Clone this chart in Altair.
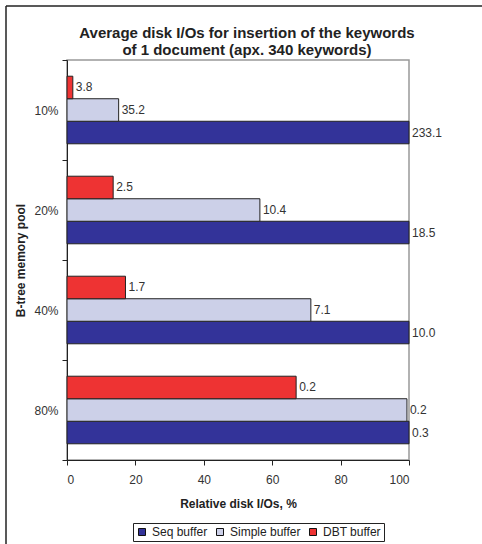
import altair as alt
import pandas as pd

pools = ["10%", "20%", "40%", "80%"]
series = ["Seq buffer", "Simple buffer", "DBT buffer"]
seq_rel = [100.0, 100.0, 100.0, 100.0]
simple_rel = [15.1, 56.4, 71.3, 99.4]
dbt_rel = [1.7, 13.5, 17.1, 67.0]
seq_io = [233.1, 18.5, 10.0, 0.3]
simple_io = [35.2, 10.4, 7.1, 0.2]
dbt_io = [3.8, 2.5, 1.7, 0.2]
colors = ["#333399", "#ccd0e8", "#ee3333"]

rows = []
for s, rel, io in zip(series, [seq_rel, simple_rel, dbt_rel], [seq_io, simple_io, dbt_io]):
    for p, r, v in zip(pools, rel, io):
        rows.append({"pool": p, "series": s, "rel": r, "io": v})
df = pd.DataFrame(rows)

FONT = "Liberation Sans"

y = alt.Y("pool:N", sort=pools, scale=alt.Scale(paddingInner=0, paddingOuter=0),
          axis=alt.Axis(title="B-tree memory pool", tickBand="extent", labelFontSize=12,
                        labelColor="#333", titleFontSize=12, titleFontWeight="bold",
                        titleColor="#222", domainColor="#222", tickColor="#222",
                        tickSize=5, labelPadding=4, titlePadding=6))
yoff = alt.YOffset("series:N", sort=["DBT buffer", "Simple buffer", "Seq buffer"],
                   scale=alt.Scale(paddingInner=0, paddingOuter=0.72))
x = alt.X("rel:Q", scale=alt.Scale(domain=[0, 100], nice=False),
          axis=alt.Axis(title="Relative disk I/Os, %", values=[0, 20, 40, 60, 80, 100],
                        grid=False, labelFontSize=12, labelColor="#333", titleFontSize=12,
                        titleFontWeight="bold", titleColor="#222", domainColor="#222",
                        tickColor="#222", tickSize=5, labelPadding=9, titlePadding=13))

base = alt.Chart(df)

bars = base.mark_bar(stroke="#222", strokeWidth=1).encode(
    x=x, y=y, yOffset=yoff,
    color=alt.Color("series:N", sort=series,
                    scale=alt.Scale(domain=series, range=colors),
                    legend=alt.Legend(title=None, orient="none", direction="horizontal",
                                      legendX=66, legendY=463, symbolType="square",
                                      symbolSize=49, symbolStrokeColor="#111",
                                      symbolStrokeWidth=1, labelFontSize=12,
                                      labelColor="#222", labelFont=FONT,
                                      strokeColor="#222", padding=3,
                                      columnPadding=6, labelOffset=4)),
)

labels = base.mark_text(align="left", baseline="middle", dx=3, fontSize=12,
                        color="#333", font=FONT).encode(
    x="rel:Q", y=alt.Y("pool:N", sort=pools), yOffset=yoff,
    text=alt.Text("io:Q", format=".1f"),
)

border_df = pd.DataFrame({"k": [0]})
border_left = alt.Chart(border_df).mark_rule(color="#222", strokeWidth=1.5).encode(
    x=alt.value(-61), y=alt.value(-54), y2=alt.value(490))
border_top = alt.Chart(border_df).mark_rule(color="#222", strokeWidth=1.5).encode(
    x=alt.value(-61), x2=alt.value(420), y=alt.value(-54))

chart = alt.layer(bars, labels, border_left, border_top).properties(
    width=342, height=400,
    autosize=alt.AutoSizeParams(type="none"),
    padding={"left": 67, "top": 60, "right": 73, "bottom": 84},
    title=alt.Title(["Average disk I/Os for insertion of the keywords",
                     "of 1 document (apx. 340 keywords)"],
                    fontSize=15, fontWeight="bold", font=FONT, color="#222",
                    anchor="middle", dx=9, dy=59, offset=6, lineHeight=17),
).configure(font=FONT).configure_view(stroke="#999", strokeWidth=1.5).configure_axis(
    labelFont=FONT, titleFont=FONT)

chart.save("out.html", embed_options={"renderer": "svg", "actions": False})
